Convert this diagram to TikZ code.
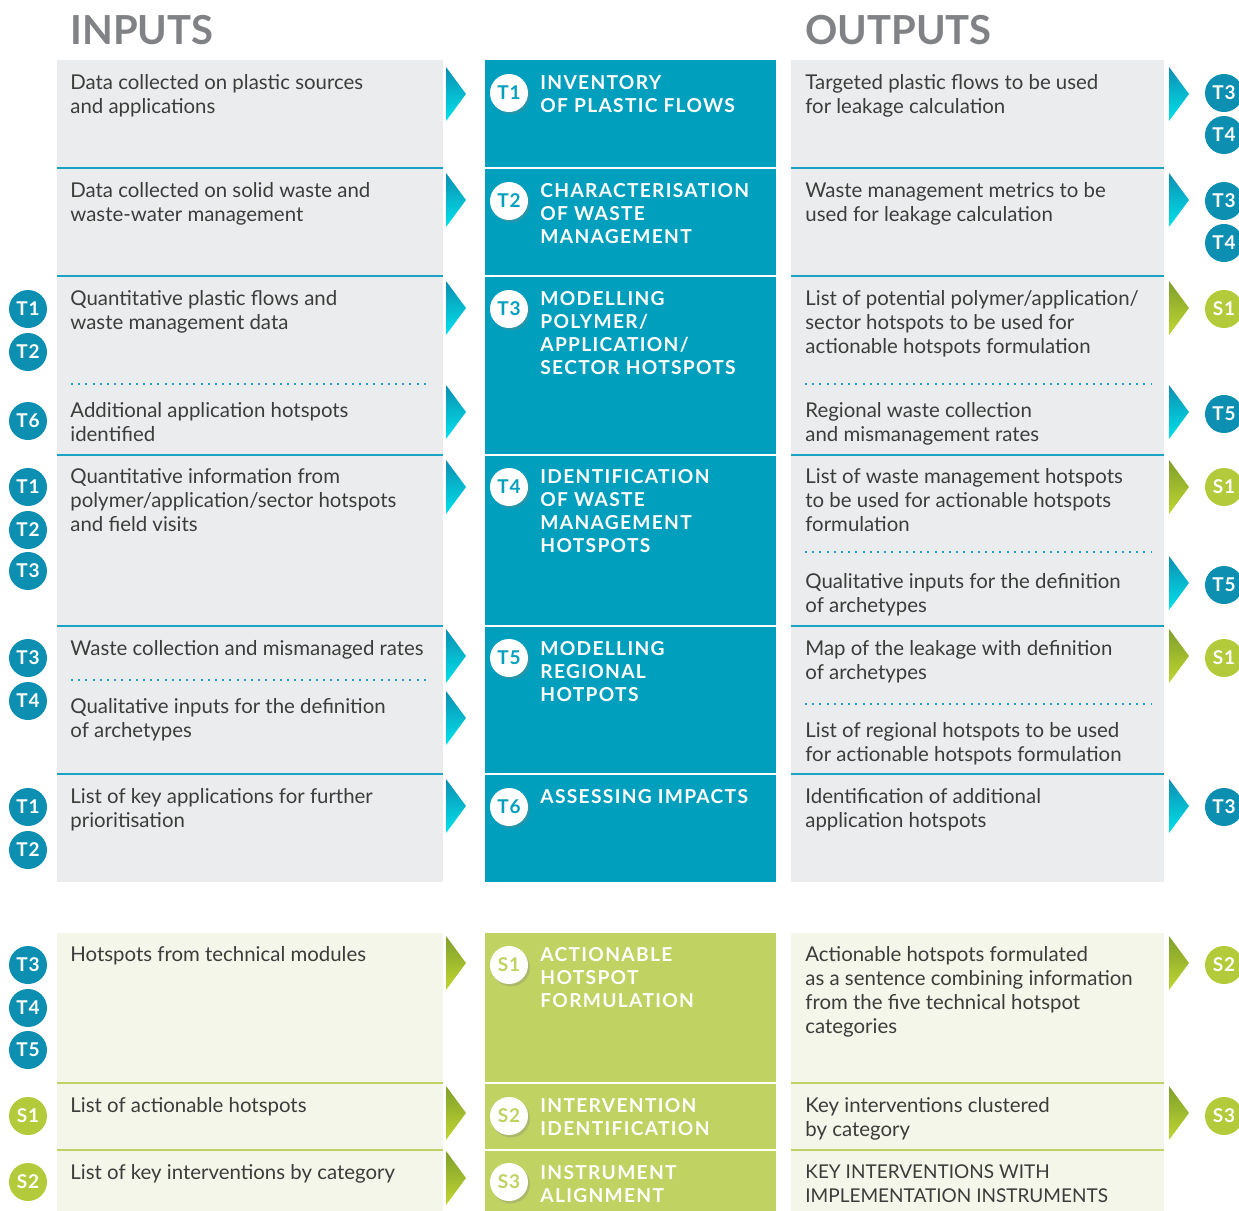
\documentclass[tikz,border=0pt]{standalone}
\usepackage{fontspec}
\setmainfont{Lato}
\newfontfamily\capsfont[LetterSpace=6.8]{Lato}
\newfontfamily\tagfont[LetterSpace=4]{Lato}
\usetikzlibrary{shadows}

\definecolor{greybg}{HTML}{EBECEE}
\definecolor{greenbg}{HTML}{F4F6EA}
\definecolor{tealbox}{HTML}{009FBD}
\definecolor{tealline}{HTML}{1BA3C6}
\definecolor{tealtag}{HTML}{0C8FB1}
\definecolor{greenbox}{HTML}{BFD262}
\definecolor{greentag}{HTML}{B3CB3A}
\definecolor{greentop}{HTML}{7E9F2B}
\definecolor{greenlow}{HTML}{C2D632}
\definecolor{titlegrey}{HTML}{808285}
\definecolor{bodygrey}{HTML}{3C3C3B}

\tikzstyle{title text} = [anchor=west, inner sep=0, text=titlegrey, font=\bfseries\fontsize{20}{20}\selectfont]
\tikzstyle{side text}  = [anchor=north west, inner sep=0, align=left, text=bodygrey, font=\fontsize{10.2}{12}\selectfont]
\tikzstyle{head text}  = [anchor=north west, inner sep=0, align=left, text=white, font=\capsfont\bfseries\fontsize{9.6}{11.5}\selectfont]
\tikzstyle{tag}        = [circle, minimum size=19pt, inner sep=0, text=white, font=\tagfont\bfseries\fontsize{9.5}{9.5}\selectfont]
\tikzstyle{white tag}  = [tag, fill=white, drop shadow={shadow xshift=1pt, shadow yshift=-1.2pt, opacity=.3}]

\newcommand{\tealarrow}[2]{\shade[top color=tealtag, bottom color=cyan!70!tealbox] (#1,#2-27) -- ++(20,27) -- ++(-20,27) -- cycle;}
\newcommand{\greenarrow}[2]{\shade[top color=greentop, bottom color=greenlow] (#1,#2-27) -- ++(20,27) -- ++(-20,27) -- cycle;}

\begin{document}
\begin{tikzpicture}[x=0.5pt, y=-0.5pt]
\useasboundingbox (0,0) rectangle (1239,1211);

\node[title text] (inputs) at (70,30) {INPUTS};
\node[title text] (outputs) at (805,30) {OUTPUTS};

% panels
\fill[greybg] (57,60) rectangle (443,882);
\fill[greybg] (791,60) rectangle (1164,882);
\fill[tealbox] (485,60) rectangle (776,882);
\fill[greenbg] (57,933) rectangle (443,1211);
\fill[greenbg] (791,933) rectangle (1164,1211);
\fill[greenbox] (485,933) rectangle (776,1211);

\foreach \y in {168,276,455,626,774}{
    \draw[tealline, line width=1.3pt] (57,\y) -- (443,\y);
    \draw[tealline, line width=1.3pt] (791,\y) -- (1164,\y);
    \draw[white, line width=1pt] (485,\y) -- (776,\y);
}
\foreach \y in {1083,1150}{
    \draw[greenbox, line width=1.3pt] (57,\y) -- (443,\y);
    \draw[greenbox, line width=1.3pt] (791,\y) -- (1164,\y);
    \draw[white, line width=1pt] (485,\y) -- (776,\y);
}
\foreach \y in {384,680}
    \draw[tealline, line width=1pt, dash pattern=on 1pt off 2.6pt] (71,\y) -- (430,\y);
\foreach \y in {384,552,704}
    \draw[tealline, line width=1pt, dash pattern=on 1pt off 2.6pt] (805,\y) -- (1152,\y);

% inputs
\foreach \y/\t in {82/{Data collected on plastic sources\\and applications},
                   190/{Data collected on solid waste and\\waste-water management},
                   298/{Quantitative plastic flows and\\waste management data},
                   410/{Additional application hotspots\\identified},
                   476/{Quantitative information from\\polymer/application/sector hotspots\\and field visits},
                   648/{Waste collection and mismanaged rates},
                   706/{Qualitative inputs for the definition\\of archetypes},
                   796/{List of key applications for further\\prioritisation},
                   954/{Hotspots from technical modules},
                   1105/{List of actionable hotspots},
                   1172/{List of key interventions by category}}
    \node[side text] (in\y) at (70,\y-8) {\t};

% outputs
\foreach \y/\t in {82/{Targeted plastic flows to be used\\for leakage calculation},
                   190/{Waste management metrics to be\\used for leakage calculation},
                   298/{List of potential polymer/application/\\sector hotspots to be used for\\actionable hotspots formulation},
                   410/{Regional waste collection\\and mismanagement rates},
                   476/{List of waste management hotspots\\to be used for actionable hotspots\\formulation},
                   581/{Qualitative inputs for the definition\\of archetypes},
                   648/{Map of the leakage with definition\\of archetypes},
                   730/{List of regional hotspots to be used\\for actionable hotspots formulation},
                   796/{Identification of additional\\application hotspots},
                   954/{Actionable hotspots formulated\\as a sentence combining information\\from the five technical hotspot\\categories},
                   1105/{Key interventions clustered\\by category}}
    \node[side text] (out\y) at (805,\y-8) {\t};
\node[side text, font=\fontsize{9.5}{12}\selectfont] (out1172) at (805,1164) {KEY INTERVENTIONS WITH\\IMPLEMENTATION INSTRUMENTS};

% modules
\foreach \y/\t in {82/{INVENTORY\\OF PLASTIC FLOWS},
                   190/{CHARACTERISATION\\OF WASTE\\MANAGEMENT},
                   298/{MODELLING\\POLYMER/\\APPLICATION/\\SECTOR HOTSPOTS},
                   476/{IDENTIFICATION\\OF WASTE\\MANAGEMENT\\HOTSPOTS},
                   648/{MODELLING\\REGIONAL\\HOTPOTS},
                   796/{ASSESSING IMPACTS},
                   954/{ACTIONABLE\\HOTSPOT\\FORMULATION},
                   1105/{INTERVENTION\\IDENTIFICATION},
                   1172/{INSTRUMENT\\ALIGNMENT}}
    \node[head text] (mod\y) at (540,\y-7) {\t};

\foreach \y/\t in {93/T1,201/T2,309/T3,487/T4,658/T5,807/T6}
    \node[white tag, text=tealbox] (c\t) at (509,\y) {\t};
\foreach \y/\t in {965/S1,1116/S2,1182/S3}
    \node[white tag, text=greenbox] (c\t) at (509,\y) {\t};

% side tags
\foreach \y/\t in {309/T1,352/T2,421/T6,487/T1,530/T2,571/T3,658/T3,701/T4,807/T1,850/T2,965/T3,1008/T4,1050/T5}
    \node[tag, fill=tealtag] (l\y) at (28,\y) {\t};
\foreach \y/\t in {1116/S1,1182/S2}
    \node[tag, fill=greentag] (l\y) at (28,\y) {\t};
\foreach \y/\t in {93/T3,135/T4,201/T3,243/T4,414/T5,585/T5,807/T3}
    \node[tag, fill=tealtag] (r\y) at (1224,\y) {\t};
\foreach \y/\t in {309/S1,487/S1,658/S1,965/S2,1116/S3}
    \node[tag, fill=greentag] (r\y) at (1224,\y) {\t};

% arrows
\foreach \y in {94,200,308,412,487,656,718,806} {\tealarrow{446}{\y}}
\foreach \y in {963,1113,1178} {\greenarrow{446}{\y}}
\foreach \y in {94,200,412,583,806} {\tealarrow{1169}{\y}}
\foreach \y in {308,487,656,963,1113} {\greenarrow{1169}{\y}}

\end{tikzpicture}
\end{document}
